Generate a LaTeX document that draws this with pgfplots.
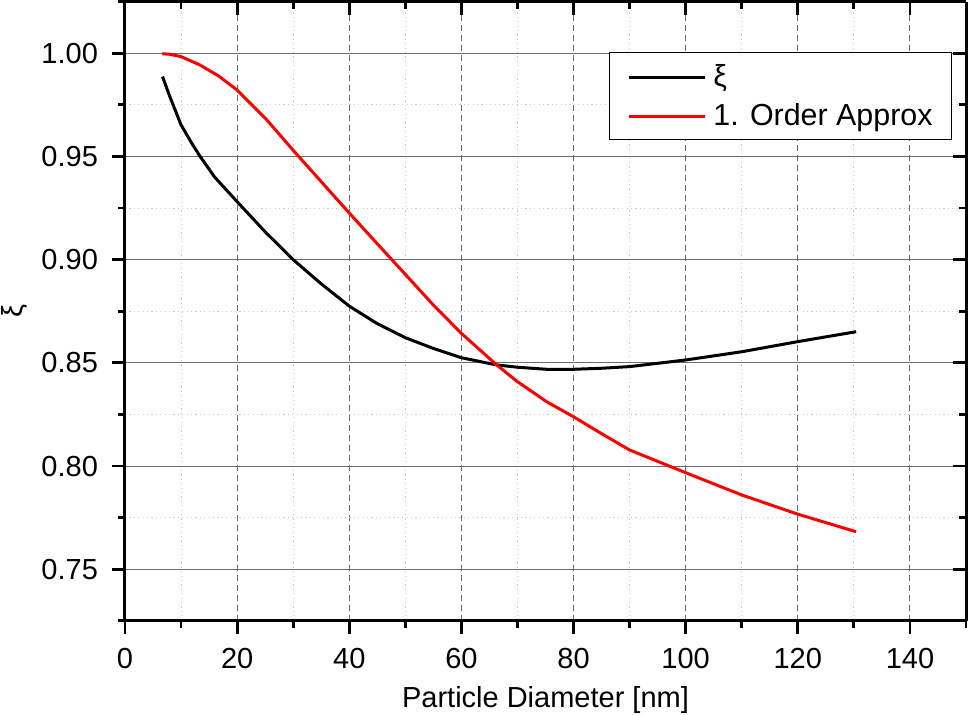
\documentclass[border=0pt]{standalone}
\usepackage{fontspec}
\setmainfont{Liberation Sans}
\usepackage{pgfplots}
\pgfplotsset{compat=1.18}
\begin{document}
\fontsize{14.5}{17}\selectfont
\begin{tikzpicture}
\pgfplotsset{
  common/.style={
    scale only axis, width=420.5pt, height=309.6pt,
    xmin=0, xmax=150, ymin=0.725, ymax=1.025,
    xtick={0,20,...,140}, minor xtick={10,30,...,150},
    ytick={0.75,0.80,...,1.001}, minor ytick={0.725,0.775,...,1.026},
    major tick length=6.5pt, minor tick length=3.5pt,
    every tick/.style={black, line width=1.4pt},
    axis line style={black, line width=1.5pt},
    /pgf/number format/assume math mode=true,
    ticklabel style={font=\fontsize{14.5}{17}\selectfont},
  }
}
\begin{axis}[common,
  axis x line*=bottom, axis y line*=left,
  tick align=outside,
  yticklabel style={/pgf/number format/.cd, fixed, fixed zerofill, precision=2, /tikz/.cd, xshift=-2pt},
  xticklabel style={yshift=-2pt},
  grid=both,
  major x grid style={gray!85!black, line width=0.5pt, dash pattern=on 3pt off 2pt},
  minor x grid style={black!20, line width=0.5pt, dash pattern=on 0.6pt off 1.6pt},
  major y grid style={gray!85!black, line width=0.5pt},
  minor y grid style={black!20, line width=0.5pt, dash pattern=on 0.6pt off 1.6pt},
  xlabel={Particle Diameter [nm]},
  ylabel={ξ},
  xlabel style={font=\fontsize{14.5}{17}\selectfont, at={(axis description cs:0.5,0)}, anchor=north, yshift=-28pt},
  ylabel style={font=\fontsize{14.5}{17}\selectfont, at={(axis description cs:0,0.5)}, anchor=center, yshift=55.5pt},
  legend style={at={(0.9834,0.919)}, anchor=north east, draw=black, line width=0.5pt,
    font=\fontsize{15.2}{18}\selectfont, inner xsep=7.75pt, inner ysep=3pt, row sep=1.5pt,
    nodes={inner sep=1.75pt, text height=12.5pt, text depth=2pt},
    cells={anchor=west}},
  legend image code/.code={\path (0pt,0pt) (41pt,0pt);\draw[#1, line width=1.5pt] (1.5pt,-0.5pt) -- (39.5pt,-0.5pt);},
]
\addplot[black, line width=1.5pt] table {
x y
6.7 0.9887
8 0.979
10 0.9653
12 0.956
13.4 0.950
16 0.940
20 0.9281
25 0.9135
30 0.900
35 0.8883
40 0.8775
45 0.8690
50 0.8622
55 0.857
60 0.8525
66.3 0.849
70 0.8479
75.2 0.8469
80 0.8469
85 0.8474
90 0.8482
100 0.8514
110 0.8554
120 0.8603
130.4 0.8651
};
\addlegendentry{ξ}
\addplot[red, line width=1.5pt] table {
x y
6.65 0.9998
8 0.9995
10 0.9984
13.4 0.9943
16.7 0.989
20 0.9822
25.3 0.9677
30 0.953
35 0.9378
40 0.9226
45 0.9077
50 0.8929
55 0.8780
60 0.8643
66.3 0.849
70 0.8409
75.2 0.8312
80 0.8239
85 0.8157
90 0.8078
100 0.7968
110 0.786
120 0.7767
130.4 0.7682
};
\addlegendentry{1. Order Approx}
\end{axis}
\begin{axis}[common,
  axis x line*=top, axis y line*=right,
  tick align=inside,
  xticklabels={}, yticklabels={},
]
\addplot[draw=none] coordinates {(0,0.8)};
\end{axis}
\pgfresetboundingbox
\path (-62.5pt,-47.05pt) rectangle (421.5pt,310.45pt);
\end{tikzpicture}
\end{document}
